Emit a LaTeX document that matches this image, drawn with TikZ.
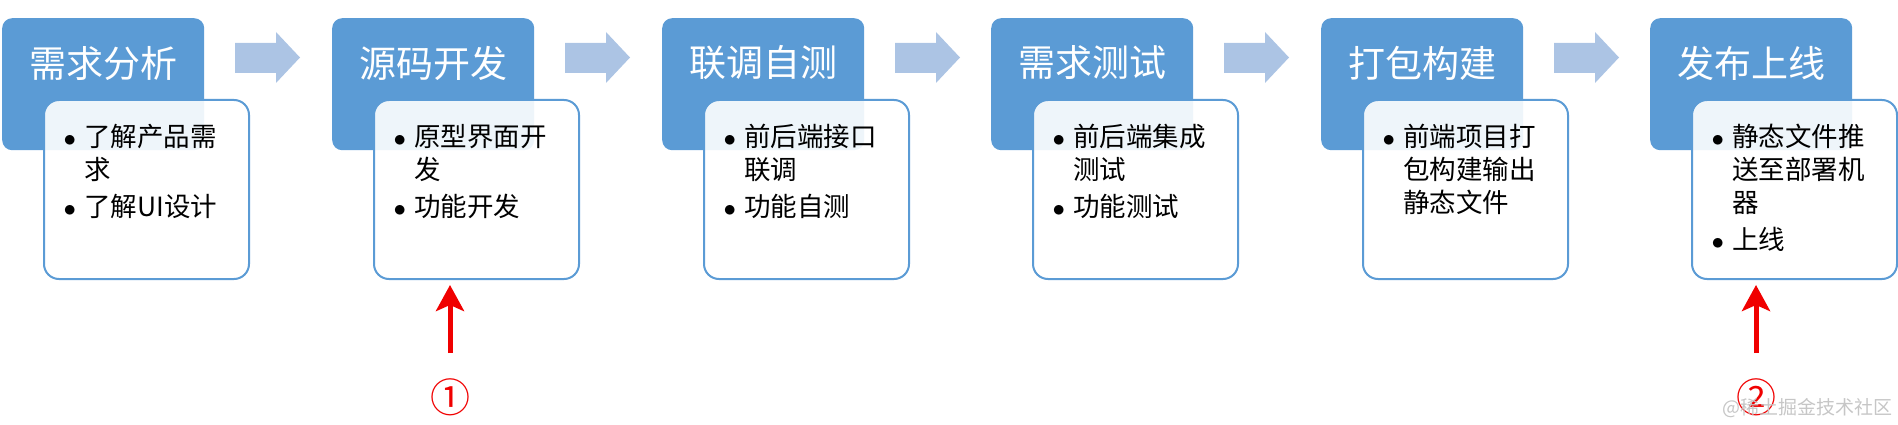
\documentclass[tikz,border=0pt]{standalone}
\usepackage{fontspec}
\setmainfont{Noto Sans CJK SC}
\usetikzlibrary{arrows.meta}
\definecolor{stageblue}{RGB}{91,155,213}
\definecolor{flowblue}{RGB}{172,196,228}
\definecolor{markred}{RGB}{240,0,0}
\tikzset{
  titlebox/.style={fill=stageblue, rounded corners=10pt, minimum width=202pt, minimum height=132pt, anchor=north west, inner sep=0pt},
  titletext/.style={text=white, font=\fontsize{37}{37}\selectfont, inner sep=0pt},
  detailbox/.style={draw=stageblue, line width=2pt, fill=white, fill opacity=0.9, rounded corners=15pt, minimum width=205pt, minimum height=179pt, anchor=north west},
  detailtext/.style={font=\fontsize{26.5}{33}\selectfont, anchor=north west, inner sep=0pt},
  markarrow/.style={draw=markred, line width=5pt, -{Stealth[length=26pt,width=28pt,inset=6pt]}},
  marknum/.style={text=markred, font=\fontsize{40}{40}\selectfont, inner sep=0pt}
}
% #1 name, #2 left edge, #3 title, #4 bullet list
\newcommand{\flowstage}[4]{%
  \node[titlebox] (#1) at (#2,18) {};
  \node[titletext] (#1t) at ([yshift=-45pt]#1.north) {#3};
  \node[detailbox] (#1d) at ([xshift=41pt,yshift=-81pt]#1.north west) {};
  \node[detailtext] (#1l) at ([xshift=20.5pt,yshift=-24pt]#1d.north west) {#4};
}
% block arrow to the right of a stage
\newcommand{\flowarrow}[1]{%
  \fill[flowblue] ([xshift=233pt,yshift=-25pt]#1.north west) -- ++(41,0) -- ++(0,-11)
    -- ++(24,25.5) -- ++(-24,25.5) -- ++(0,-10) -- ++(-41,0) -- cycle;
}
\newcommand{\dotlist}[1]{\begin{tabular}{@{}l@{\hspace{8pt}}l@{}}#1\end{tabular}}
\newcommand{\bdot}{$\bullet$}
\begin{document}
\begin{tikzpicture}[x=1pt,y=-1pt]
  \useasboundingbox (0,0) rectangle (1898,425);
  \flowstage{s1}{2}{需求分析}{\dotlist{\bdot & 了解产品需\\ & 求\\[4pt] \bdot & 了解UI设计}}
  \flowstage{s2}{332}{源码开发}{\dotlist{\bdot & 原型界面开\\ & 发\\[4pt] \bdot & 功能开发}}
  \flowstage{s3}{662}{联调自测}{\dotlist{\bdot & 前后端接口\\ & 联调\\[4pt] \bdot & 功能自测}}
  \flowstage{s4}{991}{需求测试}{\dotlist{\bdot & 前后端集成\\ & 测试\\[4pt] \bdot & 功能测试}}
  \flowstage{s5}{1321}{打包构建}{\dotlist{\bdot & 前端项目打\\ & 包构建输出\\ & 静态文件}}
  \flowstage{s6}{1650}{发布上线}{\dotlist{\bdot & 静态文件推\\ & 送至部署机\\ & 器\\[4pt] \bdot & 上线}}

  \flowarrow{s1}
  \flowarrow{s2}
  \flowarrow{s3}
  \flowarrow{s4}
  \flowarrow{s5}

  \node[marknum] (n1) at (450,397) {①};
  \node[marknum] (n2) at (1756,397) {②};
  \draw[markarrow, shorten <=25pt, shorten >=5pt] (n1) -- (n1 |- s2d.south);
  \draw[markarrow, shorten <=25pt, shorten >=5pt] (n2) -- (n2 |- s6d.south);

  \node[text=gray!45, font=\fontsize{19}{19}\selectfont, anchor=east, inner sep=0pt] (wm) at (1893,408) {@稀土掘金技术社区};
\end{tikzpicture}
\end{document}
